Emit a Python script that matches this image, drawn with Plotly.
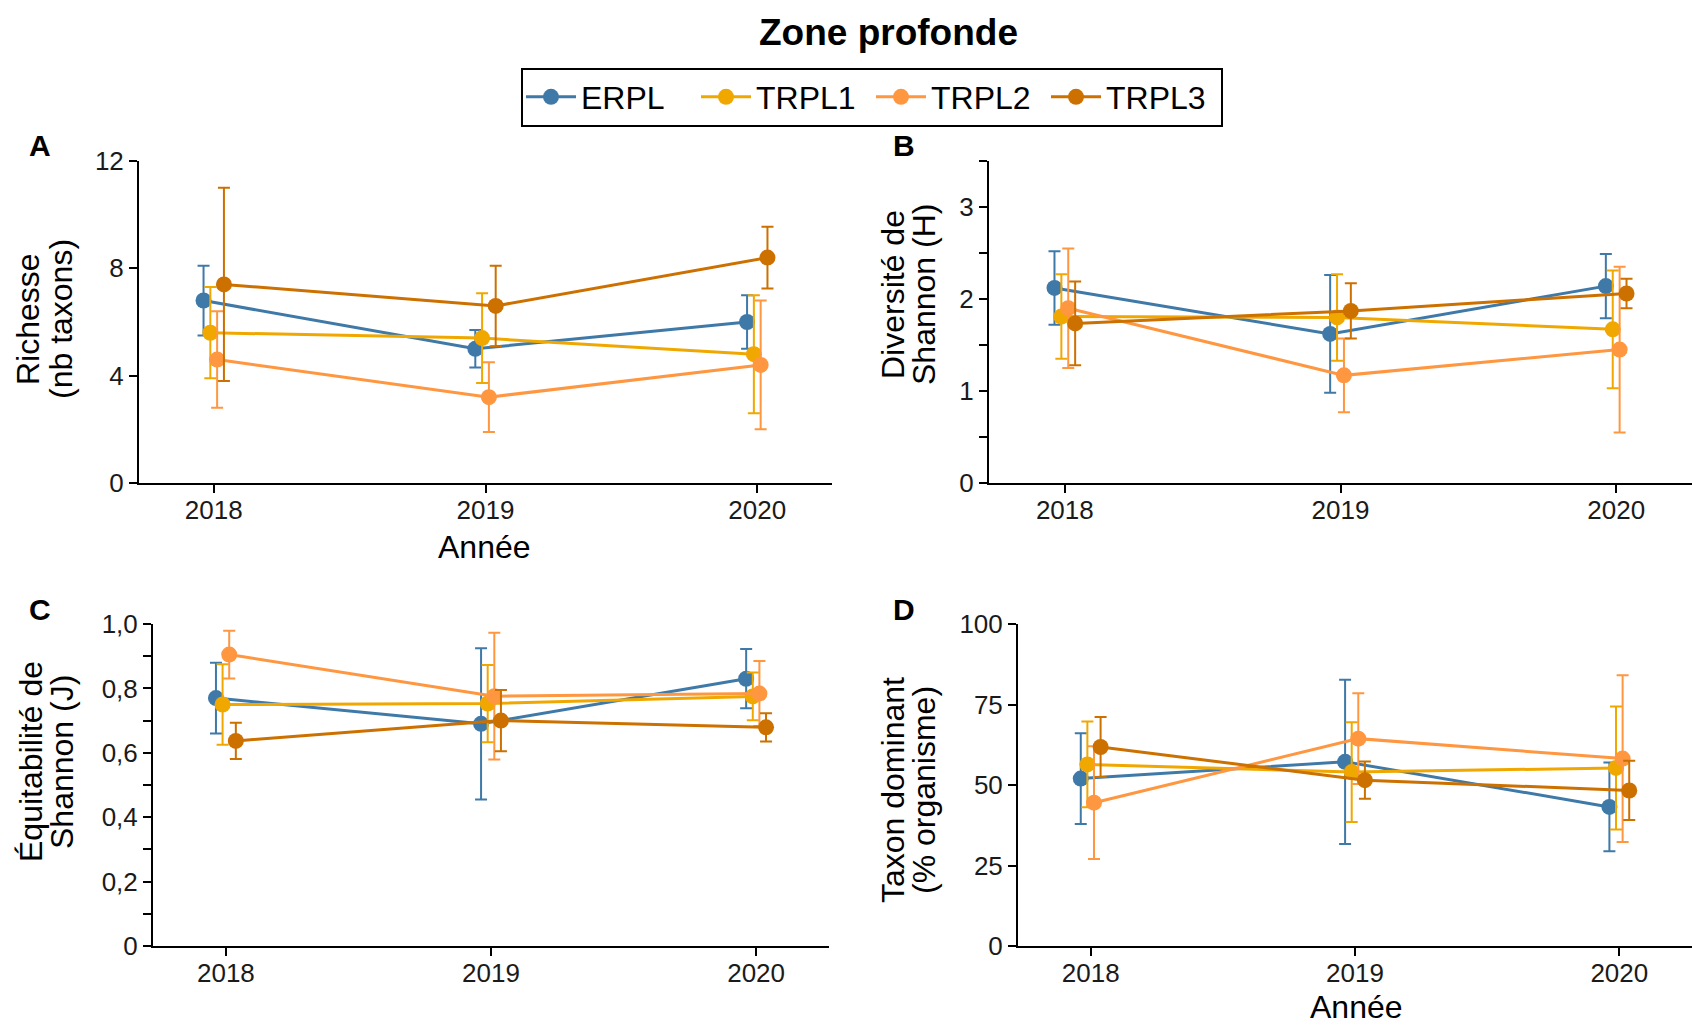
import plotly.graph_objects as go

W, H = 1692, 1025

# ---------------- data ----------------
years = [2018, 2019, 2020]
stations = ["ERPL", "TRPL1", "TRPL2", "TRPL3"]
colors = ["#3f79a8", "#f0a800", "#ff9640", "#cc7000"]
dodge = [-0.0375, -0.0125, 0.0125, 0.0375]

# A - Richesse (nb taxons): mean and error, one row per station
richesse_moy = [[6.8, 5.0, 6.0], [5.6, 5.4, 4.8], [4.6, 3.2, 4.4], [7.4, 6.6, 8.4]]
richesse_err = [[1.3, 0.7, 1.0], [1.7, 1.67, 2.2], [1.8, 1.3, 2.4], [3.6, 1.5, 1.15]]

# B - Diversité de Shannon (H)
shannon_moy = [[2.12, 1.62, 2.14], [1.81, 1.80, 1.67], [1.90, 1.17, 1.45], [1.735, 1.87, 2.06]]
shannon_err = [[0.40, 0.64, 0.35], [0.46, 0.47, 0.64], [0.65, 0.40, 0.90], [0.455, 0.30, 0.16]]

# C - Équitabilité de Shannon (J)
equit_moy = [[0.77, 0.69, 0.83], [0.75, 0.753, 0.775], [0.905, 0.776, 0.784], [0.637, 0.70, 0.679]]
equit_err = [[0.11, 0.235, 0.092], [0.125, 0.12, 0.074], [0.074, 0.197, 0.101], [0.056, 0.095, 0.044]]

# D - Taxon dominant (% organisme)
dominant_moy = [[52.0, 57.2, 43.2], [56.4, 54.0, 55.3], [44.5, 64.4, 58.2], [61.8, 51.5, 48.3]]
dominant_err = [[14.1, 25.5, 13.8], [13.3, 15.5, 19.1], [17.5, 14.1, 25.9], [9.3, 5.8, 9.2]]

# ticks
a_ticks = [0, 4, 8, 12]
b_ticks = [0, 0.5, 1, 1.5, 2, 2.5, 3, 3.5]
b_labels = ["0", "", "1", "", "2", "", "3", ""]
c_ticks = [0, 0.1, 0.2, 0.3, 0.4, 0.5, 0.6, 0.7, 0.8, 0.9, 1.0]
c_labels = ["0", "", "0,2", "", "0,4", "", "0,6", "", "0,8", "", "1,0"]
d_ticks = [0, 25, 50, 75, 100]

FONT = "Liberation Sans, Arial, sans-serif"

# panel pixel boxes (left, right, top, bottom)
panels = {
    "A": (139, 832, 161, 483),
    "B": (989, 1692, 161, 483),
    "C": (153, 829, 624, 946),
    "D": (1018, 1692, 624, 946),
}


def xdom(l, r):
    return [l / W, r / W]


def ydom(t, b):
    return [1 - b / H, 1 - t / H]


fig = go.Figure()

datasets = [
    ("A", "x", "y", richesse_moy, richesse_err),
    ("B", "x2", "y2", shannon_moy, shannon_err),
    ("C", "x3", "y3", equit_moy, equit_err),
    ("D", "x4", "y4", dominant_moy, dominant_err),
]

for pi, (name, xa, ya, moy, err) in enumerate(datasets):
    for si, st in enumerate(stations):
        fig.add_trace(go.Scatter(
            x=[yr + dodge[si] for yr in years],
            y=moy[si],
            error_y=dict(type="data", array=err[si], visible=True,
                         color=colors[si], thickness=2, width=6),
            mode="lines+markers",
            line=dict(color=colors[si], width=3),
            marker=dict(color=colors[si], size=16),
            name=st,
            legendgroup=st,
            showlegend=(pi == 0),
            xaxis=xa, yaxis=ya,
            hoverinfo="x+y+name",
        ))

axis_common = dict(
    showline=True, linecolor="black", linewidth=2,
    ticks="outside", ticklen=8, tickwidth=2, tickcolor="black",
    showgrid=False, zeroline=False, mirror=False, automargin=False,
    tickfont=dict(family=FONT, size=26, color="#1a1a1a"),
)

xr = [2017.725, 2020.275]


def xaxis(p, anchor):
    l, r, t, b = panels[p]
    return dict(axis_common, domain=xdom(l, r), range=xr, anchor=anchor,
                tickmode="array", tickvals=years, ticktext=[str(y) for y in years],
                ticklabelstandoff=-5)


def yaxis(p, anchor, rng, tv, tt=None):
    l, r, t, b = panels[p]
    d = dict(axis_common, domain=ydom(t, b), range=rng, anchor=anchor,
             tickmode="array", tickvals=tv)
    d["ticktext"] = tt if tt is not None else [str(v) for v in tv]
    return d


layout = dict(
    width=W, height=H, autosize=False,
    margin=dict(l=0, r=0, t=0, b=0, pad=0, autoexpand=False),
    paper_bgcolor="white", plot_bgcolor="white",
    font=dict(family=FONT, color="black"),
    xaxis=xaxis("A", "y"),
    xaxis2=xaxis("B", "y2"),
    xaxis3=xaxis("C", "y3"),
    xaxis4=xaxis("D", "y4"),
    yaxis=yaxis("A", "x", [0, 12], a_ticks),
    yaxis2=yaxis("B", "x2", [0, 3.5], b_ticks, b_labels),
    yaxis3=yaxis("C", "x3", [0, 1.0], c_ticks, c_labels),
    yaxis4=yaxis("D", "x4", [0, 100], d_ticks),
    showlegend=True,
    legend=dict(
        orientation="h", x=872 / W, xanchor="center", y=1 - 97 / H, yanchor="middle",
        font=dict(family=FONT, size=32, color="black"),
        bordercolor="black", borderwidth=2, bgcolor="white",
        entrywidth=110, itemwidth=50,
    ),
)
fig.update_layout(**layout)


def ann(text, x, y, size, bold=False, angle=0):
    fig.add_annotation(
        text=f"<b>{text}</b>" if bold else text,
        x=x / W, y=1 - y / H, xref="paper", yref="paper",
        xanchor="center", yanchor="middle", showarrow=False,
        textangle=angle, font=dict(family=FONT, size=size, color="black"),
    )


ann("Zone profonde", 888, 32, 37, bold=True)
ann("A", 40, 145, 30, bold=True)
ann("B", 904, 145, 30, bold=True)
ann("C", 40, 609, 30, bold=True)
ann("D", 904, 609, 30, bold=True)

ann("Année", 484, 547, 32)
ann("Année", 1356, 1007, 32)

ann("Richesse", 28, 319, 32, angle=-90)
ann("(nb taxons)", 61, 319, 32, angle=-90)
ann("Diversité de", 893, 295, 32, angle=-90)
ann("Shannon (H)", 924, 295, 32, angle=-90)
ann("Équitabilité de", 31, 762, 32, angle=-90)
ann("Shannon (J)", 62, 762, 32, angle=-90)
ann("Taxon dominant", 893, 790, 32, angle=-90)
ann("(% organisme)", 924, 790, 32, angle=-90)

post = """
document.documentElement.style.margin='0';
document.body.style.margin='0';
"""

fig.write_html("out.html", config={"displayModeBar": False, "responsive": False},
               post_script=post)
